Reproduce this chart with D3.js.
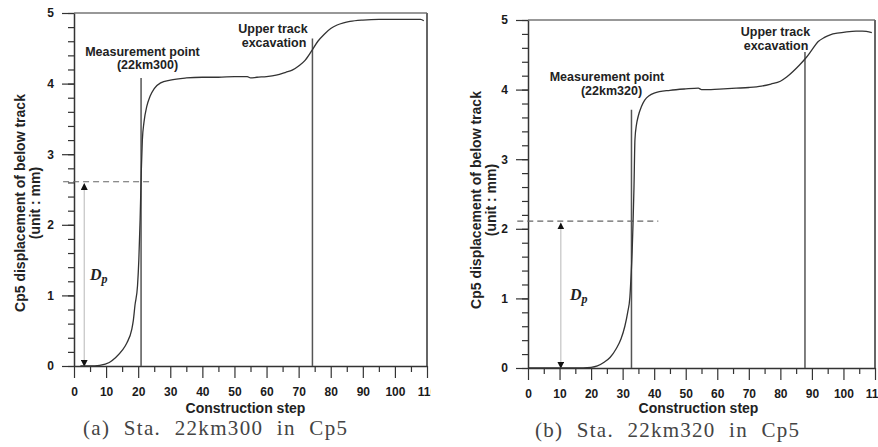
<!DOCTYPE html>
<html>
<head>
<meta charset="utf-8">
<script src="https://cdn.jsdelivr.net/npm/d3@7"></script>
<style>
	body { margin: 0; background: #fff; }
	svg { display: block; }
	.title { font-family: "Liberation Sans", Arial, sans-serif; font-weight: bold; font-size: 14px; fill: #222; }
	.note { font-family: "Liberation Sans", Arial, sans-serif; font-weight: bold; font-size: 12.5px; fill: #222; }
	.caption { font-family: "Liberation Serif", "Times New Roman", serif; font-size: 21px; fill: #444; word-spacing: 7px; }
	.dp { font-family: "Liberation Serif", "Times New Roman", serif; font-style: italic; font-weight: bold; fill: #222; }
</style>
</head>
<body>
<svg id="chart" width="878" height="447"></svg>
<script>

// (a) Sta. 22km300 in Cp5
var stepsA  = [2, 5, 8, 11, 13, 15, 16.5, 18, 18.5, 19, 19.8, 20.2, 20.6, 21, 21.3, 21.8, 22.7, 23.7, 25, 27, 30, 35, 40, 45, 50, 54, 55, 57, 60, 63, 66, 68, 70, 72, 74, 76, 78, 80, 82, 84, 86, 90, 95, 100, 105, 108, 109];
var valuesA = [0, 0, 0.01, 0.05, 0.12, 0.22, 0.33, 0.52, 0.65, 0.86, 1.14, 1.5, 2.07, 2.8, 3.2, 3.45, 3.68, 3.82, 3.93, 4.01, 4.05, 4.08, 4.09, 4.09, 4.1, 4.1, 4.08, 4.09, 4.1, 4.12, 4.16, 4.19, 4.25, 4.33, 4.46, 4.6, 4.7, 4.78, 4.83, 4.86, 4.88, 4.9, 4.91, 4.91, 4.91, 4.91, 4.89];

// (b) Sta. 22km320 in Cp5
var stepsB  = [0, 10, 15, 20, 22, 24, 26, 28, 29.5, 30.7, 31.6, 32.3, 32.7, 33, 33.3, 33.6, 33.9, 34.4, 34.9, 36, 37, 40, 45, 50, 54, 55, 58, 62, 66, 70, 74, 77, 80, 82, 84, 86, 88, 90, 92, 94, 96, 98, 101, 104, 106, 109];
var valuesB = [0, 0, 0, 0.01, 0.03, 0.08, 0.15, 0.28, 0.42, 0.6, 0.8, 1.02, 1.35, 1.65, 2.08, 2.6, 3.28, 3.5, 3.61, 3.76, 3.85, 3.95, 3.99, 4.01, 4.02, 4.0, 4.0, 4.01, 4.02, 4.03, 4.05, 4.08, 4.12, 4.18, 4.26, 4.35, 4.45, 4.57, 4.69, 4.75, 4.79, 4.81, 4.83, 4.84, 4.84, 4.82];

var xTicks = [0, 10, 20, 30, 40, 50, 60, 70, 80, 90, 100, 110];
var yTicks = [0, 1, 2, 3, 4, 5];

// step / value of the marker lines
var markA = { measure: [20.9, 4.08], upper: [74.3, 4.64], dp: 2.61, dpStep: 3.2, dashEnd: 24.4 };
var markB = { measure: [32.8, 3.71], upper: [87.8, 4.54], dp: 2.11, dpStep: 10.4, dashEnd: 41.3 };

var svg = d3.select('#chart');

var defs = svg.append('defs');
defs.append('marker')
	.attr('id', 'arrow')
	.attr('viewBox', '0 0 10 10')
	.attr('refX', 9)
	.attr('refY', 5)
	.attr('markerWidth', 7)
	.attr('markerHeight', 7)
	.attr('markerUnits', 'userSpaceOnUse')
	.attr('orient', 'auto-start-reverse')
	.append('path')
	.attr('d', 'M0,0 L10,5 L0,10 Z')
	.style('fill', '#111');

function styleAxis(a, keepDomain) {
	if (keepDomain) a.select('.domain').attr('stroke', '#333').attr('stroke-width', 1.5);
	else a.select('.domain').remove();
	a.selectAll('line').attr('stroke', '#333').attr('stroke-width', 1.2);
	a.selectAll('text')
		.style('font-family', '"Liberation Sans", Arial, sans-serif')
		.style('font-weight', 'bold')
		.style('font-size', '12px')
		.style('fill', '#1a1a1a');
}

function drawPanel(p) {

	defs.append('clipPath')
		.attr('id', 'clip-' + p.id)
		.append('rect')
		.attr('x', p.clip[0])
		.attr('y', 0)
		.attr('width', p.clip[1] - p.clip[0])
		.attr('height', 447);

	var g = svg.append('g').attr('clip-path', 'url(#clip-' + p.id + ')');

	var x = d3.scaleLinear().domain([0, 110]).range(p.xr);
	var y = d3.scaleLinear().domain([0, 5]).range(p.yr);

	// frame top + right
	g.append('line')
		.attr('x1', x(0)).attr('y1', y(5))
		.attr('x2', x(110)).attr('y2', y(5))
		.attr('stroke', '#333')
		.attr('stroke-width', 1.2);

	g.append('line')
		.attr('x1', x(110)).attr('y1', y(5))
		.attr('x2', x(110)).attr('y2', y(0))
		.attr('stroke', '#666')
		.attr('stroke-width', 2);

	// minor ticks
	g.append('g')
		.attr('transform', 'translate(' + x(0) + ',0)')
		.call(d3.axisLeft(y).tickValues(d3.range(0, 5.01, 0.2)).tickSize(6).tickFormat(''))
		.call(styleAxis, false);

	g.append('g')
		.attr('transform', 'translate(0,' + y(0) + ')')
		.call(d3.axisBottom(x).tickValues(d3.range(5, 110, 10)).tickSize(6).tickFormat(''))
		.call(styleAxis, false);

	// major ticks
	g.append('g')
		.attr('transform', 'translate(' + x(0) + ',0)')
		.call(d3.axisLeft(y).tickValues(yTicks).tickFormat(d3.format('d')).tickSize(12).tickPadding(8).tickSizeOuter(0))
		.call(styleAxis, true);

	g.append('g')
		.attr('transform', 'translate(0,' + y(0) + ')')
		.call(d3.axisBottom(x).tickValues(xTicks).tickFormat(d3.format('d')).tickSize(12).tickPadding(9).tickSizeOuter(0))
		.call(styleAxis, true);

	// vertical marker lines
	[p.mark.measure, p.mark.upper].forEach(function(m) {
		g.append('line')
			.attr('x1', x(m[0])).attr('y1', y(0))
			.attr('x2', x(m[0])).attr('y2', y(m[1]))
			.attr('stroke', '#555')
			.attr('stroke-width', 1.5);
	});

	// dashed level of Dp
	g.append('line')
		.attr('x1', x(-3.4)).attr('y1', y(p.mark.dp))
		.attr('x2', x(p.mark.dashEnd)).attr('y2', y(p.mark.dp))
		.attr('stroke', '#666')
		.attr('stroke-width', 1.2)
		.style('stroke-dasharray', '6,4');

	// Dp arrow
	g.append('line')
		.attr('x1', x(p.mark.dpStep)).attr('y1', y(0))
		.attr('x2', x(p.mark.dpStep)).attr('y2', y(p.mark.dp) + 2)
		.attr('stroke', '#c8c8c8')
		.attr('stroke-width', 1.3)
		.attr('marker-start', 'url(#arrow)')
		.attr('marker-end', 'url(#arrow)');

	var dp = g.append('text')
		.attr('class', 'dp')
		.attr('x', p.dpLabel[0])
		.attr('y', p.dpLabel[1]);
	dp.append('tspan').style('font-size', '16px').text('D');
	dp.append('tspan').style('font-size', '12px').attr('dy', 3).text('p');

	// curve
	var line = d3.line()
		.x(function(d) { return x(d[0]); })
		.y(function(d) { return y(d[1]); })
		.curve(d3.curveMonotoneX);

	g.append('path')
		.datum(d3.zip(p.steps, p.values))
		.attr('d', line)
		.style('fill', 'none')
		.attr('stroke', '#333')
		.attr('stroke-width', 1.3);

	// annotations
	p.notes.forEach(function(n) {
		g.append('text')
			.attr('class', 'note')
			.attr('x', n[0])
			.attr('y', n[1])
			.attr('text-anchor', 'middle')
			.text(n[2]);
	});

	// axis titles
	var mid = (p.xr[0] + p.xr[1]) / 2;
	g.append('text')
		.attr('class', 'title')
		.attr('x', mid + p.xTitleShift)
		.attr('y', 413)
		.attr('text-anchor', 'middle')
		.text('Construction step');

	g.append('text')
		.attr('class', 'title')
		.attr('transform', 'translate(' + p.yTitle[0] + ',' + p.yTitle[2] + ') rotate(-90)')
		.attr('text-anchor', 'middle')
		.text('Cp5 displacement of below track');

	g.append('text')
		.attr('class', 'title')
		.attr('transform', 'translate(' + p.yTitle[1] + ',' + p.yTitle[2] + ') rotate(-90)')
		.attr('text-anchor', 'middle')
		.text('(unit : mm)');

	g.append('text')
		.attr('class', 'caption')
		.attr('x', p.caption[0])
		.attr('y', p.caption[1])
		.attr('textLength', 264)
		.attr('lengthAdjust', 'spacing')
		.text(p.captionText);
}

drawPanel({
	id: 'a',
	clip: [0, 431],
	xr: [74, 427],
	yr: [366, 13],
	steps: stepsA,
	values: valuesA,
	mark: markA,
	dpLabel: [90, 280],
	notes: [[142.5, 56, 'Measurement point'], [147.5, 69, '(22km300)'], [273, 33, 'Upper track'], [274, 47, 'excavation']],
	xTitleShift: -5,
	yTitle: [25, 40, 203],
	caption: [83, 435],
	captionText: '(a) Sta. 22km300 in Cp5'
});

drawPanel({
	id: 'b',
	clip: [438, 878],
	xr: [528, 875],
	yr: [368, 20],
	steps: stepsB,
	values: valuesB,
	mark: markB,
	dpLabel: [570, 300],
	notes: [[607, 81, 'Measurement point'], [611.5, 95, '(22km320)'], [775.5, 36, 'Upper track'], [776, 50, 'excavation']],
	xTitleShift: -3,
	yTitle: [481, 496, 200],
	caption: [535, 437],
	captionText: '(b) Sta. 22km320 in Cp5'
});

</script>
</body>
</html>
